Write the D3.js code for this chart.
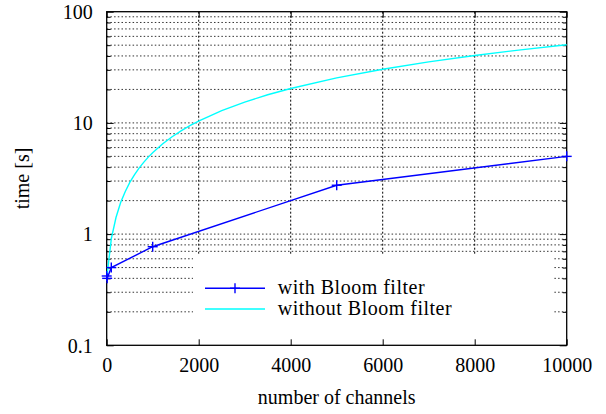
<!DOCTYPE html>
<html>
<head>
<meta charset="utf-8">
<script src="https://cdn.jsdelivr.net/npm/d3@7"></script>
<style>
  html, body { margin: 0; padding: 0; background: #fff; }
</style>
</head>
<body>
<svg id="chart" width="606" height="414"></svg>
<script>
// ---- data ----
const xTicks = [0, 2000, 4000, 6000, 8000, 10000];
const yMajorTicks = [0.1, 1, 10, 100];
const yMinorTicks = [0.2,0.3,0.4,0.5,0.6,0.7,0.8,0.9, 2,3,4,5,6,7,8,9, 20,30,40,50,60,70,80,90];
const yTickLabels = ["0.1", "1", "10", "100"];

const seriesNames = ["with Bloom filter", "without Bloom filter"];

const bloomX = [0, 10, 100, 1000, 5000, 10000];
const bloomY = [0.42, 0.40, 0.50, 0.77, 2.75, 5.0];

const noBloomX = [0, 101, 202, 303, 404, 505, 606, 707, 808, 909, 1010, 1212, 1414, 1616, 1818, 2020, 2500, 3000, 3500, 4000, 5000, 6000, 7000, 8000, 9000, 10000];
const noBloomY = [0.40, 0.91, 1.41, 1.92, 2.42, 2.93, 3.43, 3.94, 4.44, 4.95, 5.45, 6.46, 7.47, 8.48, 9.49, 10.5, 12.9, 15.4, 17.9, 20.4, 25.4, 30.4, 35.4, 40.4, 45.4, 50.4];

// ---- layout ----
const FONT = "'Liberation Serif', 'DejaVu Serif', serif";
const L = 106.7, R = 566.7, T = 11.7, B = 345.3;
const svg = d3.select("#chart");

const x = d3.scaleLinear().domain([0, 10000]).range([L, R]);
const y = d3.scaleLog().domain([0.1, 100]).range([B, T]);

// ---- grid ----
const grid = svg.append("g");
const allY = yMajorTicks.concat(yMinorTicks).filter(v => v > 0.1 && v < 100);
grid.selectAll("line.hy").data(allY).enter().append("line")
  .attr("x1", L).attr("x2", R)
  .attr("y1", d => y(d)).attr("y2", d => y(d))
  .attr("stroke", "#333").attr("stroke-width", 1)
  .attr("stroke-dasharray", "1.5,2.2");
grid.selectAll("line.vx").data(xTicks.filter(v => v > 0 && v < 10000)).enter().append("line")
  .attr("x1", d => x(d)).attr("x2", d => x(d))
  .attr("y1", T).attr("y2", B)
  .attr("stroke", "#000").attr("stroke-width", 1)
  .attr("stroke-dasharray", "2,2");

// legend background (clears grid)
svg.append("rect").attr("x", 193).attr("y", 255).attr("width", 360).attr("height", B - 255)
  .attr("fill", "#fff");

// ---- axes (inward ticks) ----
function styleAxis(g) {
  g.attr("font-family", FONT).attr("font-size", 20);
  g.select(".domain").remove();
  g.selectAll(".tick line").attr("stroke", "#000").attr("stroke-width", 1);
  g.selectAll(".tick text").attr("fill", "#000");
}
const gBottom = svg.append("g").attr("transform", `translate(0,${B})`)
  .call(d3.axisBottom(x).tickValues(xTicks).tickSizeInner(-6).tickSizeOuter(0).tickPadding(13).tickFormat(d3.format("d")));
styleAxis(gBottom);

const gTop = svg.append("g").attr("transform", `translate(0,${T})`)
  .call(d3.axisTop(x).tickValues(xTicks).tickSizeInner(-6).tickSizeOuter(0).tickFormat(""));
styleAxis(gTop);

const gLeft = svg.append("g").attr("transform", `translate(${L},0)`)
  .call(d3.axisLeft(y).tickValues(yMajorTicks).tickSizeInner(-7).tickSizeOuter(0).tickPadding(14)
    .tickFormat((d, i) => yTickLabels[i]));
styleAxis(gLeft);
gLeft.selectAll("text").attr("dy", "0.34em");

const gLeftMinor = svg.append("g").attr("transform", `translate(${L},0)`)
  .call(d3.axisLeft(y).tickValues(yMinorTicks).tickSizeInner(-4).tickSizeOuter(0).tickFormat(""));
styleAxis(gLeftMinor);

const gRight = svg.append("g").attr("transform", `translate(${R},0)`)
  .call(d3.axisRight(y).tickValues(yMajorTicks).tickSizeInner(-7).tickSizeOuter(0).tickFormat(""));
styleAxis(gRight);
const gRightMinor = svg.append("g").attr("transform", `translate(${R},0)`)
  .call(d3.axisRight(y).tickValues(yMinorTicks).tickSizeInner(-4).tickSizeOuter(0).tickFormat(""));
styleAxis(gRightMinor);

// frame
svg.append("rect").attr("x", L).attr("y", T).attr("width", R - L).attr("height", B - T)
  .attr("fill", "none").attr("stroke", "#000").attr("stroke-width", 1.3);

// ---- series ----
const line = d3.line().x(d => x(d[0])).y(d => y(d[1]));
const noBloom = noBloomX.map((v, i) => [v, noBloomY[i]]);
const bloom = bloomX.map((v, i) => [v, bloomY[i]]);

svg.append("path").datum(noBloom).attr("d", line)
  .attr("fill", "none").attr("stroke", "#00ffff").attr("stroke-width", 1.4);
svg.append("path").datum(bloom).attr("d", line)
  .attr("fill", "none").attr("stroke", "#0000ff").attr("stroke-width", 1.4);

function cross(g, cx, cy, s) {
  g.append("line").attr("x1", cx - s).attr("x2", cx + s).attr("y1", cy).attr("y2", cy)
    .attr("stroke", "#0000ff").attr("stroke-width", 1.4);
  g.append("line").attr("x1", cx).attr("x2", cx).attr("y1", cy - s).attr("y2", cy + s)
    .attr("stroke", "#0000ff").attr("stroke-width", 1.4);
}
const marks = svg.append("g");
bloom.forEach(d => cross(marks, x(d[0]), y(d[1]), 5));

// ---- legend ----
const lg = svg.append("g").attr("font-family", FONT).attr("font-size", 20);
lg.append("line").attr("x1", 205).attr("x2", 265).attr("y1", 288.3).attr("y2", 288.3)
  .attr("stroke", "#0000ff").attr("stroke-width", 1.4);
cross(lg, 235, 288.3, 5);
lg.append("line").attr("x1", 205).attr("x2", 265).attr("y1", 309).attr("y2", 309)
  .attr("stroke", "#00ffff").attr("stroke-width", 1.4);
lg.append("text").attr("x", 277.7).attr("y", 294.3).attr("letter-spacing", "0.5px").text(seriesNames[0]);
lg.append("text").attr("x", 277.7).attr("y", 314.5).attr("letter-spacing", "0.5px").text(seriesNames[1]);

// ---- titles ----
const titles = svg.append("g").attr("font-family", FONT).attr("font-size", 20);
titles.append("text").attr("x", (L + R) / 2).attr("y", 404).attr("text-anchor", "middle").text("number of channels");
titles.append("text").attr("transform", `translate(29,${(T + B) / 2}) rotate(-90)`)
  .attr("text-anchor", "middle").text("time [s]");
</script>
</body>
</html>
